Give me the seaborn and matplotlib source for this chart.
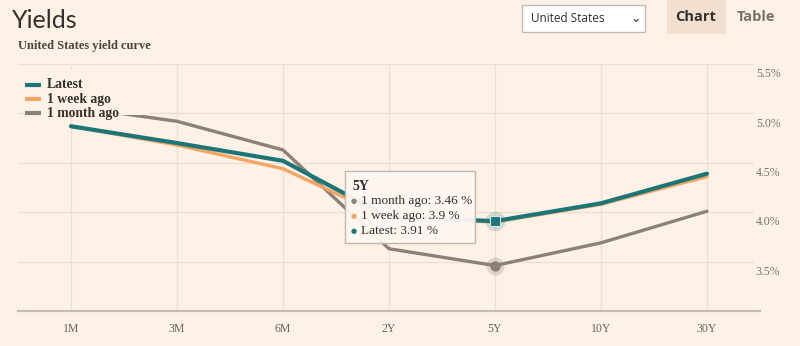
import matplotlib
matplotlib.use("Agg")
import matplotlib.pyplot as plt
import matplotlib.transforms as mtransforms
from matplotlib.patches import FancyBboxPatch, Rectangle
import pandas as pd
import seaborn as sns

# Yield curve data (percent)
maturities = ["1M", "3M", "6M", "2Y", "5Y", "10Y", "30Y"]
latest = [4.87, 4.70, 4.52, 3.95, 3.91, 4.09, 4.39]
week_ago = [4.87, 4.68, 4.44, 3.94, 3.90, 4.08, 4.36]
month_ago = [5.07, 4.92, 4.63, 3.63, 3.46, 3.69, 4.01]
series_names = ["Latest", "1 week ago", "1 month ago"]
y_ticks = [3.5, 4.0, 4.5, 5.0, 5.5]
highlight = "5Y"

BG = "#fff1e5"
TEAL = "#1c7677"
ORANGE = "#f3a563"
GREY = "#8c8079"
TEXT = "#33302e"
GRID = "#ecdfd4"

sns.set_theme(style="white")
plt.rcParams["font.family"] = ["Liberation Serif", "DejaVu Serif"]

df = pd.DataFrame({
    "maturity": maturities * 3,
    "yield": month_ago + week_ago + latest,
    "series": ["1 month ago"] * 7 + ["1 week ago"] * 7 + ["Latest"] * 7,
})

fig = plt.figure(figsize=(8, 3.46), dpi=100, facecolor=BG)
ax = fig.add_axes([18 / 800, 35 / 346, 742 / 800, 247 / 346])
ax.set_facecolor(BG)

palette = {"Latest": TEAL, "1 week ago": ORANGE, "1 month ago": GREY}
sizes = {"Latest": 3.0, "1 week ago": 2.4, "1 month ago": 2.4}
sns.lineplot(data=df, x="maturity", y="yield", hue="series", palette=palette,
             size="series", sizes=sizes, sort=False, ax=ax, legend=False,
             zorder=3)

ax.set_xlim(-0.5, len(maturities) - 0.5)
ax.set_ylim(3.0, 5.5)
ax.set_xticks(range(len(maturities)))
ax.set_xticklabels(maturities, fontsize=8.5, color="#6b625c")
ax.tick_params(axis="x", length=0, pad=9)
ax.set_yticks(y_ticks)
ax.set_yticklabels([])
ax.tick_params(axis="y", length=0)
ax.set_xlabel("")
ax.set_ylabel("")

# Grid
for y in y_ticks:
    ax.axhline(y, color=GRID, lw=1.0, zorder=0, xmax=0.99)
for i in range(len(maturities)):
    ax.axvline(i, color=GRID, lw=1.0, zorder=0)

for s in ["top", "right", "left"]:
    ax.spines[s].set_visible(False)
ax.spines["bottom"].set_color("#c9bdb3")
ax.spines["bottom"].set_linewidth(1.6)

# Right-hand y labels, set just below each gridline
offset = mtransforms.ScaledTranslation(-3 / 72, -3 / 72, fig.dpi_scale_trans)
trans = mtransforms.blended_transform_factory(ax.transAxes, ax.transData) + offset
for y in y_ticks:
    ax.text(1.0, y, f"{y:.1f}%", transform=trans, ha="left", va="top",
            fontsize=8.5, color="#7a716b")

# Legend
leg_box = Rectangle((20 / 742, 196 / 247), 112 / 742, 45 / 247,
                    transform=ax.transAxes, facecolor=BG, edgecolor="none",
                    zorder=5)
ax.add_patch(leg_box)
leg_rows = [(TEAL, "Latest"), (ORANGE, "1 week ago"), (GREY, "1 month ago")]
for k, (c, name) in enumerate(leg_rows):
    yy = 85 + 14 * k
    fig.add_artist(plt.Line2D([25 / 800, 41 / 800], [1 - yy / 346] * 2,
                              color=c, lw=3, solid_capstyle="butt", zorder=6))
    fig.text(47 / 800, 1 - yy / 346, name, fontsize=9.8, fontweight="bold",
             color=TEXT, va="center", ha="left", zorder=6)

# Highlighted maturity markers
hi = maturities.index(highlight)
ax.scatter([hi], [month_ago[hi]], s=170, color=GREY, alpha=0.25, zorder=6,
           linewidths=0)
ax.scatter([hi], [month_ago[hi]], s=55, color=GREY, zorder=7, linewidths=0)
ax.scatter([hi], [latest[hi]], s=200, color=TEAL, alpha=0.2, zorder=6,
           linewidths=0, marker="o")
ax.scatter([hi], [latest[hi]], s=60, color=TEAL, zorder=7, marker="s",
           edgecolors="#d6e6e4", linewidths=0.8)

# Tooltip
tip = FancyBboxPatch((345 / 800, 1 - 243 / 346), 130 / 800, 72 / 346,
                     boxstyle="square,pad=0", transform=fig.transFigure,
                     facecolor="#fdf7f2", edgecolor="#bfb4ab", lw=1.0,
                     alpha=0.95, zorder=10)
fig.add_artist(tip)
fig.text(352 / 800, 1 - 186 / 346, highlight, fontsize=10, fontweight="bold",
         color=TEXT, va="center", zorder=11)
tip_rows = [(GREY, "1 month ago", month_ago[hi]),
            (ORANGE, "1 week ago", week_ago[hi]),
            (TEAL, "Latest", latest[hi])]
for k, (c, name, v) in enumerate(tip_rows):
    yy = 201 + 15 * k
    fig.text(351 / 800, 1 - yy / 346, "\u25CF", fontsize=5, color=c,
             va="center", zorder=11, family="DejaVu Sans")
    fig.text(361 / 800, 1 - yy / 346, f"{name}: {v:g} %", fontsize=9.5,
             color=TEXT, va="center", zorder=11)

# Header
fig.text(12 / 800, 1 - 21 / 346, "Yields", fontsize=18, color=TEXT,
         family="Lato", va="center")
fig.text(18 / 800, 1 - 46 / 346, "United States yield curve", fontsize=9,
         fontweight="bold", color="#4a4541", va="center")

# Country selector
sel = Rectangle((522 / 800, 1 - 32 / 346), 123 / 800, 27 / 346,
                transform=fig.transFigure, facecolor="white",
                edgecolor="#c4bbb4", lw=1.0)
fig.add_artist(sel)
fig.text(531 / 800, 1 - 19 / 346, "United States", fontsize=8.5,
         family="Open Sans", color="#33302e", va="center")
fig.text(636 / 800, 1 - 18 / 346, "\u2304", fontsize=9, family="DejaVu Sans",
         color="#33302e", va="center", ha="center")

# Chart / Table tabs
tab = Rectangle((667 / 800, 1 - 34 / 346), 59 / 800, 34 / 346,
                transform=fig.transFigure, facecolor="#f2dfcf",
                edgecolor="none")
fig.add_artist(tab)
fig.text(696 / 800, 1 - 17 / 346, "Chart", fontsize=10.5, fontweight="bold",
         family="Open Sans", color="#33302e", va="center", ha="center")
fig.text(756 / 800, 1 - 17 / 346, "Table", fontsize=10.5, fontweight="bold",
         family="Open Sans", color="#7a716b", va="center", ha="center")

fig.savefig("out.png", dpi=100, facecolor=BG)
